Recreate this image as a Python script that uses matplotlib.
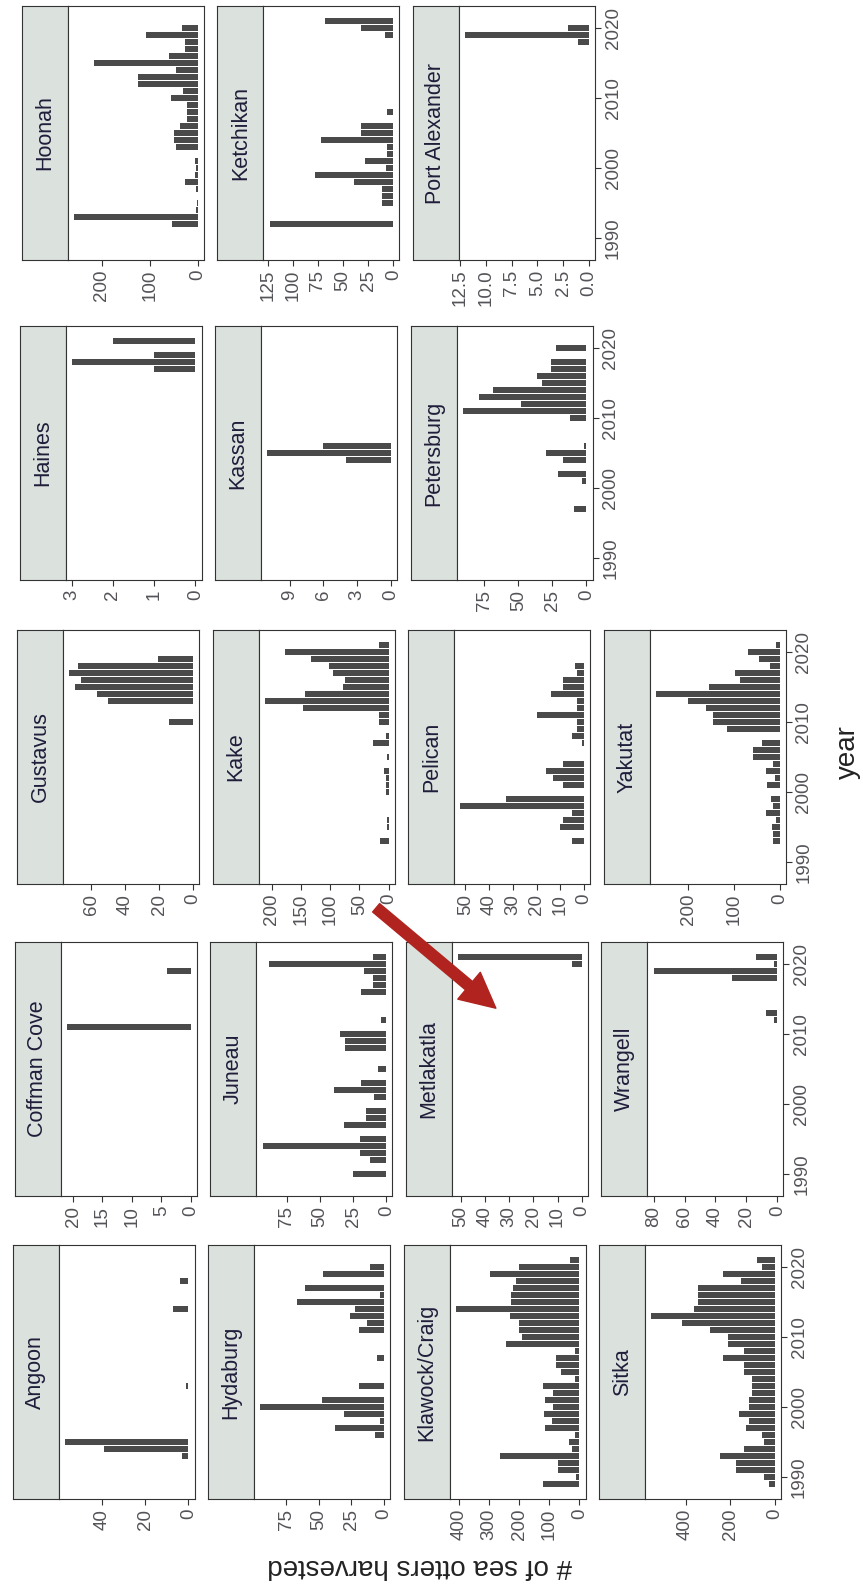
import numpy as np
import matplotlib.pyplot as plt
from matplotlib.patches import FancyArrowPatch
from matplotlib.ticker import MultipleLocator, FuncFormatter

plt.rcParams['font.family'] = ['Liberation Sans', 'DejaVu Sans']

# sea otter harvest by community (years with a harvest, and counts)
communities = ['Angoon', 'Coffman Cove', 'Gustavus', 'Haines', 'Hoonah',
               'Hydaburg', 'Juneau', 'Kake', 'Kassan', 'Ketchikan',
               'Klawock/Craig', 'Metlakatla', 'Pelican', 'Petersburg',
               'Port Alexander', 'Sitka', 'Wrangell', 'Yakutat']

angoon_yr = [1993, 1994, 1995, 2003, 2014, 2018]
angoon_n = [3, 39, 57, 1, 7, 4]
coffman_yr = [2011, 2019]
coffman_n = [21, 4]
gustavus_yr = [2010, 2013, 2014, 2015, 2016, 2017, 2018, 2019]
gustavus_n = [14, 50, 57, 70, 66, 73, 68, 21]
haines_yr = [2017, 2018, 2019, 2021]
haines_n = [1, 3, 1, 2]
hoonah_yr = [1992, 1993, 1994, 1995, 1997, 1998, 1999, 2000, 2001, 2003, 2004,
             2005, 2006, 2007, 2008, 2009, 2010, 2011, 2012, 2013, 2014, 2015,
             2016, 2017, 2018, 2019, 2020]
hoonah_n = [53, 258, 3, 2, 3, 26, 5, 3, 5, 45, 50, 50, 38, 23, 23, 23, 55, 30,
            125, 125, 45, 217, 61, 27, 27, 107, 32]
hydaburg_yr = [1996, 1997, 1998, 1999, 2000, 2001, 2003, 2007, 2011, 2012,
               2013, 2014, 2015, 2016, 2017, 2019, 2020]
hydaburg_n = [7, 38, 3, 31, 95, 48, 19, 5, 19, 13, 26, 22, 67, 3, 61, 47, 11]
juneau_yr = [1990, 1992, 1993, 1994, 1995, 1997, 1998, 1999, 2001, 2002, 2003,
             2005, 2008, 2009, 2010, 2012, 2016, 2017, 2018, 2019, 2020, 2021]
juneau_n = [25, 12, 20, 93, 20, 32, 15, 15, 9, 39, 19, 6, 31, 31, 35, 4, 19,
            10, 10, 17, 88, 10]
kake_yr = [1993, 1995, 1996, 2000, 2001, 2002, 2003, 2005, 2007, 2008, 2010,
           2011, 2012, 2013, 2014, 2015, 2016, 2017, 2018, 2019, 2020, 2021]
kake_n = [14, 2, 2, 4, 4, 5, 8, 3, 27, 5, 16, 16, 147, 212, 144, 79, 75, 95,
          102, 133, 178, 16]
kassan_yr = [2004, 2005, 2006]
kassan_n = [4, 11, 6]
ketchikan_yr = [1992, 1995, 1996, 1997, 1998, 1999, 2000, 2001, 2002, 2003,
                2004, 2005, 2006, 2008, 2019, 2020, 2021]
ketchikan_n = [123, 11, 11, 11, 39, 78, 7, 28, 6, 6, 72, 32, 32, 6, 8, 32, 68]
klawock_yr = list(range(1989, 2022))
klawock_n = [120, 10, 70, 70, 265, 26, 35, 15, 113, 90, 117, 87, 113, 87, 122,
             15, 61, 78, 78, 15, 243, 191, 200, 200, 230, 410, 226, 226, 220,
             210, 296, 200, 31]
metlakatla_yr = [2020, 2021]
metlakatla_n = [4, 51]
pelican_yr = [1993, 1995, 1996, 1997, 1998, 1999, 2001, 2002, 2003, 2004, 2007,
              2008, 2009, 2010, 2011, 2012, 2013, 2014, 2015, 2016, 2017, 2018]
pelican_n = [5, 10, 9, 5, 52, 33, 9, 13, 16, 9, 1, 5, 3, 3, 20, 3, 3, 14, 9, 9,
             3, 4]
petersburg_yr = [1997, 2001, 2002, 2004, 2005, 2006, 2010, 2011, 2012, 2013,
                 2014, 2015, 2016, 2017, 2018, 2020]
petersburg_n = [9, 3, 21, 17, 30, 2, 12, 91, 48, 79, 69, 33, 36, 26, 26, 22]
portalex_yr = [2018, 2019, 2020]
portalex_n = [1, 12, 2]
sitka_yr = list(range(1989, 2022))
sitka_n = [28, 47, 174, 174, 244, 140, 47, 58, 128, 116, 163, 116, 116, 105,
           105, 105, 140, 140, 233, 140, 210, 210, 290, 418, 553, 360, 345, 345,
           345, 151, 233, 58, 81]
wrangell_yr = [2012, 2013, 2018, 2019, 2020, 2021]
wrangell_n = [2, 7, 29, 80, 2, 14]
yakutat_yr = [1993, 1994, 1995, 1996, 1997, 1998, 1999, 2001, 2002, 2003, 2004,
              2005, 2006, 2007, 2009, 2010, 2011, 2012, 2013, 2014, 2015, 2016,
              2017, 2018, 2019, 2020, 2021]
yakutat_n = [14, 14, 17, 8, 30, 14, 19, 27, 11, 30, 14, 59, 59, 38, 115, 146,
             146, 160, 200, 270, 155, 87, 98, 22, 45, 70, 8]

# count-axis break spacing per panel (free scales)
tick_step = [20, 5, 20, 1, 100, 25, 25, 50, 3, 25, 100, 10, 10, 25, 2.5, 200, 20, 100]
year_ticks = [1990, 2000, 2010, 2020]

harvest = [(angoon_yr, angoon_n), (coffman_yr, coffman_n), (gustavus_yr, gustavus_n),
           (haines_yr, haines_n), (hoonah_yr, hoonah_n), (hydaburg_yr, hydaburg_n),
           (juneau_yr, juneau_n), (kake_yr, kake_n), (kassan_yr, kassan_n),
           (ketchikan_yr, ketchikan_n), (klawock_yr, klawock_n),
           (metlakatla_yr, metlakatla_n), (pelican_yr, pelican_n),
           (petersburg_yr, petersburg_n), (portalex_yr, portalex_n),
           (sitka_yr, sitka_n), (wrangell_yr, wrangell_n), (yakutat_yr, yakutat_n)]

W, H = 863, 1587
fig = plt.figure(figsize=(W / 100, H / 100), dpi=100)
fig.patch.set_facecolor('white')


def box(x, y, w, h):
    # pixel box measured from the top-left corner -> figure fraction
    return [x / W, 1 - (y + h) / H, w / W, h / H]


bar_col = '#4a4a4a'
strip_col = '#dbe1dd'
edge_col = '#333333'
txt_col = '#555258'

all_yr = np.concatenate([np.array(y) for y, _ in harvest])
lo, hi = all_yr.min() - 0.45, all_yr.max() + 0.45
pad = (hi - lo) * 0.05
ylim = (lo - pad, hi + pad)

# facet_wrap(ncol=5) layout, page turned a quarter turn counter-clockwise
ncol = 5
n_panels = len(communities)
last_r = {c: max(r for r in range(4) if r * ncol + c < n_panels) for c in range(ncol)}
row_top = [6, 326, 630, 942, 1245]

strip_w, plot_w, panel_h = 46, 136, 254
for k, name in enumerate(communities):
    r, c = divmod(k, ncol)
    row = ncol - 1 - c
    y0 = row_top[row]
    x0 = 22 - 0.0075 * y0 + 195.5 * r   # page sits slightly askew

    sax = fig.add_axes(box(x0, y0, strip_w, panel_h))
    sax.set_facecolor(strip_col)
    sax.set_xticks([])
    sax.set_yticks([])
    for s in sax.spines.values():
        s.set_color(edge_col)
    sax.text(0.5, 0.5, name, rotation=90, ha='center', va='center',
             fontsize=15.5, color='#1f1d3a', transform=sax.transAxes)

    ax = fig.add_axes(box(x0 + strip_w, y0, plot_w, panel_h))
    yr, n = harvest[k]
    ax.barh(yr, n, height=0.9, color=bar_col)
    top = max(n)
    ax.set_xlim(top * 1.05, -top * 0.05)
    ax.set_ylim(*ylim)
    for s in ax.spines.values():
        s.set_color(edge_col)

    step = tick_step[k]
    ax.xaxis.set_major_locator(MultipleLocator(step))
    if float(step).is_integer():
        ax.xaxis.set_major_formatter(FuncFormatter(lambda v, p: '%d' % round(v)))
    else:
        ax.xaxis.set_major_formatter(FuncFormatter(lambda v, p: '%.1f' % v))
    ax.tick_params(axis='x', labelrotation=90, labelsize=13.5, labelcolor=txt_col,
                   color=edge_col, length=4, pad=3)

    if r == last_r[c]:
        ax.yaxis.tick_right()
        ax.set_yticks(year_ticks)
        ax.tick_params(axis='y', labelrotation=90, labelsize=13.5, labelcolor=txt_col,
                       color=edge_col, length=4, pad=3)
        for lbl in ax.get_yticklabels():
            lbl.set_va('center')
    else:
        ax.set_yticks([])

fig.text(420 / W, 1 - 1566 / H, '# of sea otters harvested', rotation=180,
         ha='center', va='center', fontsize=20, color='#222222')
fig.text(848 / W, 1 - 752 / H, 'year', rotation=90,
         ha='center', va='center', fontsize=20, color='#222222')

arrow = FancyArrowPatch((374 / W, 1 - 906 / H), (498 / W, 1 - 1010 / H),
                        transform=fig.transFigure,
                        arrowstyle='simple,head_width=0.9,head_length=0.9,tail_width=0.28',
                        mutation_scale=28, color='#b0231e', zorder=10)
fig.add_artist(arrow)

fig.savefig('out.png', dpi=100)
